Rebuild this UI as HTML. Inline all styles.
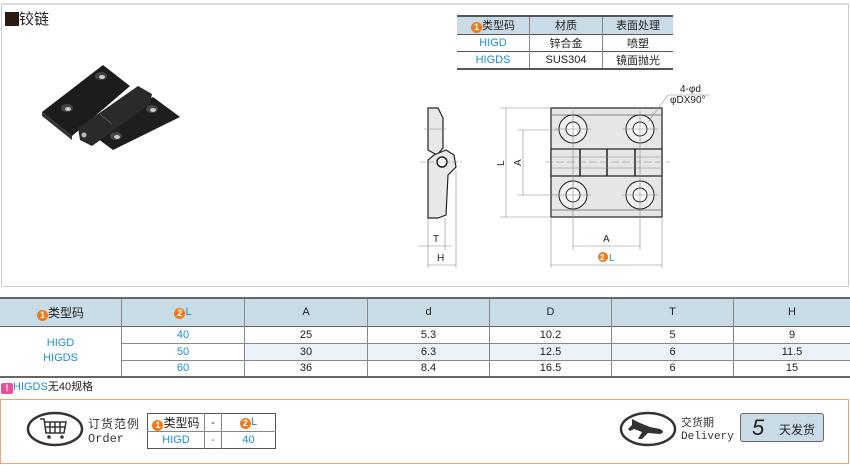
<!DOCTYPE html>
<html><head><meta charset="utf-8"><style>
body{margin:0;width:850px;height:465px;background:#fff;position:relative;overflow:hidden;font-family:"Liberation Sans","Noto Sans CJK SC",sans-serif;font-size:11px;color:#222}
.a{position:absolute}
table{border-collapse:collapse;position:absolute}
td{padding:0;text-align:center;font-size:11px}
.b{color:#1a8fd8}
.o{display:inline-block;width:11px;height:11px;border-radius:50%;background:#f07a1a;color:#fff;font-size:9px;line-height:11px;text-align:center;font-weight:bold;vertical-align:-1px}
</style></head><body>
<div class="a" style="left:1px;top:3px;width:846px;height:281px;border:1px solid #ccc;border-top:2px solid #ddd"></div>
<div class="a" style="left:5px;top:8px;font-size:15px;color:#222"><span style="display:inline-block;width:14px;height:14px;background:#2a1a14;vertical-align:-2px"></span>铰链</div>

<table style="left:457px;top:15px;width:216px;border-top:2px solid #555;border-bottom:2px solid #555">
<tr style="height:18px;background:#c9dbe6"><td style="width:72px;border-right:1px solid #888"><span class="o">1</span>类型码</td><td style="width:72px;border-right:1px solid #888">材质</td><td>表面处理</td></tr>
<tr style="height:17px;border-top:1px solid #555"><td class="b" style="border-right:1px solid #888">HIGD</td><td style="border-right:1px solid #888">锌合金</td><td>喷塑</td></tr>
<tr style="height:17px;border-top:1px solid #555"><td class="b" style="border-right:1px solid #888">HIGDS</td><td style="border-right:1px solid #888">SUS304</td><td>镜面抛光</td></tr>
</table>

<svg class="a" style="left:0;top:0" width="850" height="290">
<!-- product -->
<polygon points="42,112 103,65 130,86 72,136" fill="#1c1c1e"/>
<polygon points="42,112 72,136 72,140 42,116" fill="#333"/>
<polygon points="90,133 153,97 180,117 113,150" fill="#1e1e20"/>
<polygon points="78,128 138,86 152,94 150,104 92,146 80,140" fill="#2a2a2c"/>
<line x1="100" y1="114" x2="112" y2="124" stroke="#555"/>
<circle cx="84" cy="135" r="2.5" fill="#bbb"/>
<g fill="#444"><ellipse cx="101" cy="76" rx="6" ry="4"/><ellipse cx="67" cy="108" rx="6" ry="4"/><ellipse cx="152" cy="109" rx="6" ry="4"/><ellipse cx="116" cy="136" rx="6" ry="4"/></g>
<g fill="#ccc"><ellipse cx="102" cy="77" rx="3" ry="2"/><ellipse cx="68" cy="109" rx="3" ry="2"/><ellipse cx="153" cy="110" rx="3" ry="2"/><ellipse cx="117" cy="137" rx="3" ry="2"/></g>
<!-- side view -->
<g stroke="#222" fill="#e8e8e8" stroke-width="1.2">
<polygon points="428,108 438,108 443,118 443,148 437,155 428,150"/>
<polygon points="434,155 446,150 454,155 456,167 448,175 446,215 438,218 428,218 428,160"/>
</g>
<circle cx="442" cy="162" r="5" fill="#fff" stroke="#222" stroke-width="1.5"/>
<g stroke="#888" stroke-width="0.6">
<line x1="424" y1="129" x2="446" y2="129"/><line x1="420" y1="162" x2="462" y2="162" stroke-dasharray="6,2"/>
<line x1="428" y1="218" x2="428" y2="268"/><line x1="445" y1="218" x2="445" y2="250"/><line x1="456" y1="170" x2="456" y2="268"/>
<line x1="418" y1="246" x2="452" y2="246"/><line x1="428" y1="265" x2="456" y2="265"/>
</g>
<text x="433" y="242" font-size="10" fill="#222">T</text><text x="437" y="261" font-size="10" fill="#222">H</text>
<!-- front view -->
<rect x="551" y="108" width="111" height="109" fill="#e6e6e6" stroke="#222" stroke-width="1.2"/>
<g stroke="#666" stroke-width="0.7" fill="none"><line x1="551" y1="115" x2="662" y2="115"/><line x1="551" y1="210" x2="662" y2="210"/></g>
<rect x="551" y="149" width="111" height="27" fill="#e6e6e6" stroke="#222" stroke-width="1.2"/>
<g stroke="#222" stroke-width="1.5"><line x1="580" y1="149" x2="580" y2="176"/><line x1="607" y1="149" x2="607" y2="176"/><line x1="635" y1="149" x2="635" y2="176"/></g>
<g stroke="#888" stroke-width="0.6"><line x1="551" y1="157" x2="662" y2="157"/><line x1="551" y1="168" x2="662" y2="168"/></g>
<g fill="#f0f0f0" stroke="#222" stroke-width="1">
<circle cx="573" cy="129" r="14"/><circle cx="640" cy="129" r="14"/><circle cx="573" cy="195" r="14"/><circle cx="640" cy="195" r="14"/>
</g>
<g fill="#fff" stroke="#222" stroke-width="1">
<circle cx="573" cy="129" r="7"/><circle cx="640" cy="129" r="7"/><circle cx="573" cy="195" r="7"/><circle cx="640" cy="195" r="7"/>
</g>
<g stroke="#888" stroke-width="0.6">
<line x1="555" y1="129" x2="591" y2="129"/><line x1="622" y1="129" x2="658" y2="129"/><line x1="555" y1="195" x2="591" y2="195"/><line x1="622" y1="195" x2="658" y2="195"/>
<line x1="573" y1="111" x2="573" y2="250"/><line x1="640" y1="111" x2="640" y2="250"/>
<line x1="545" y1="162" x2="670" y2="162" stroke-dasharray="8,3"/>
<line x1="500" y1="108" x2="551" y2="108"/><line x1="500" y1="217" x2="551" y2="217"/>
<line x1="517" y1="130" x2="560" y2="130"/><line x1="517" y1="195" x2="560" y2="195"/>
<line x1="506" y1="108" x2="506" y2="217"/><line x1="523" y1="130" x2="523" y2="195"/>
<line x1="551" y1="217" x2="551" y2="268"/><line x1="662" y1="217" x2="662" y2="268"/>
<line x1="573" y1="246" x2="640" y2="246"/><line x1="551" y1="265" x2="662" y2="265"/>
<line x1="648" y1="122" x2="668" y2="95"/><line x1="668" y1="95" x2="710" y2="95"/>
</g>
<text x="496" y="166" font-size="10" fill="#222" transform="rotate(-90 500 162)">L</text>
<text x="513" y="166" font-size="10" fill="#222" transform="rotate(-90 517 162)">A</text>
<text x="603" y="242" font-size="10" fill="#222">A</text>
<circle cx="603" cy="257" r="5" fill="#f07a1a"/><text x="600" y="260" font-size="8" fill="#fff" font-weight="bold">2</text><text x="609" y="261" font-size="10" fill="#1a8fd8">L</text>
<text x="680" y="92" font-size="10" fill="#222">4-φd</text><text x="670" y="103" font-size="10" fill="#222">φDX90°</text>
</svg>

<table style="left:0;top:297px;width:850px;border-top:2px solid #666;border-bottom:2px solid #666">
<tr style="height:28px;background:#c8dce6;border-bottom:1px solid #666"><td style="width:121px;border-right:1px solid #888;font-size:12px"><span class="o">1</span>类型码</td><td style="width:122px;border-right:1px solid #888"><span class="o">2</span><span class="b">L</span></td><td style="width:122px;border-right:1px solid #888">A</td><td style="width:121px;border-right:1px solid #888">d</td><td style="width:121px;border-right:1px solid #888">D</td><td style="width:121px;border-right:1px solid #888">T</td><td>H</td></tr>
<tr style="height:17px"><td rowspan="3" class="b" style="border-right:1px solid #888;line-height:15px">HIGD<br>HIGDS</td><td class="b" style="border-right:1px solid #888">40</td><td style="border-right:1px solid #888">25</td><td style="border-right:1px solid #888">5.3</td><td style="border-right:1px solid #888">10.2</td><td style="border-right:1px solid #888">5</td><td>9</td></tr>
<tr style="height:17px;background:#eaf3fa;border-top:1px solid #888"><td class="b" style="border-right:1px solid #888;background:#fff">50</td><td style="border-right:1px solid #888">30</td><td style="border-right:1px solid #888">6.3</td><td style="border-right:1px solid #888">12.5</td><td style="border-right:1px solid #888">6</td><td>11.5</td></tr>
<tr style="height:17px;border-top:1px solid #888"><td class="b" style="border-right:1px solid #888">60</td><td style="border-right:1px solid #888">36</td><td style="border-right:1px solid #888">8.4</td><td style="border-right:1px solid #888">16.5</td><td style="border-right:1px solid #888">6</td><td>15</td></tr>
</table>
<div class="a" style="left:1px;top:378px;font-size:11px"><span style="display:inline-block;width:12px;height:11px;background:#e8509a;border-radius:2px;color:#fff;text-align:center;line-height:11px;font-weight:bold;font-size:9px;vertical-align:-1px">!</span><span class="b">HIGDS</span>无40规格</div>

<div class="a" style="left:0;top:399px;width:847px;height:63px;border:1.5px solid #f4a46c"></div>
<svg class="a" style="left:0;top:405px" width="850" height="50">
<ellipse cx="55" cy="24" rx="27" ry="16" fill="none" stroke="#333" stroke-width="2.5"/>
<g stroke="#333" stroke-width="1.5" fill="none"><path d="M40,14 L44,14 L46,28 L64,28 L66,17 L45,17"/><line x1="50" y1="17" x2="50" y2="28"/><line x1="55" y1="17" x2="55" y2="28"/><line x1="60" y1="17" x2="60" y2="28"/><line x1="45" y1="22" x2="66" y2="22"/></g>
<circle cx="49" cy="32" r="1.8" fill="#333"/><circle cx="62" cy="32" r="1.8" fill="#333"/>
<ellipse cx="648" cy="24" rx="27" ry="16" fill="none" stroke="#333" stroke-width="2.5"/>
<path d="M632,14 L640,18 L650,22 L660,24 Q666,27 660,29 L648,28 L642,34 L638,34 L642,27 L634,24 L630,26 L628,24 L632,20 Z" fill="#333"/>
</svg>
<div class="a" style="left:88px;top:415px;font-size:12px;color:#333;letter-spacing:1px">订货范例</div>
<div class="a" style="left:88px;top:432px;font-family:'Liberation Mono',monospace;font-size:12px;color:#333">Order</div>
<table style="left:147px;top:413px;width:129px;border:1.5px solid #555">
<tr style="height:18px;border-bottom:1px solid #888"><td style="width:56px;border-right:1px solid #888;font-size:12px"><span class="o">1</span>类型码</td><td style="width:16px;border-right:1px solid #888">-</td><td><span class="o">2</span><span class="b">L</span></td></tr>
<tr style="height:17px"><td class="b" style="border-right:1px solid #888">HIGD</td><td class="b" style="border-right:1px solid #888">-</td><td class="b">40</td></tr>
</table>
<div class="a" style="left:681px;top:414px;font-size:11px;color:#333">交货期</div>
<div class="a" style="left:681px;top:431px;font-family:'Liberation Mono',monospace;font-size:11px;color:#333">Delivery</div>
<div class="a" style="left:740px;top:413px;width:82px;height:27px;background:#c9dbe6;border:1px solid #666;border-radius:3px"><span class="a" style="left:11px;top:1px;font-size:22px;font-style:italic;color:#222">5</span><span class="a" style="left:38px;top:7px;font-size:12px;color:#222">天发货</span></div>
</body></html>
